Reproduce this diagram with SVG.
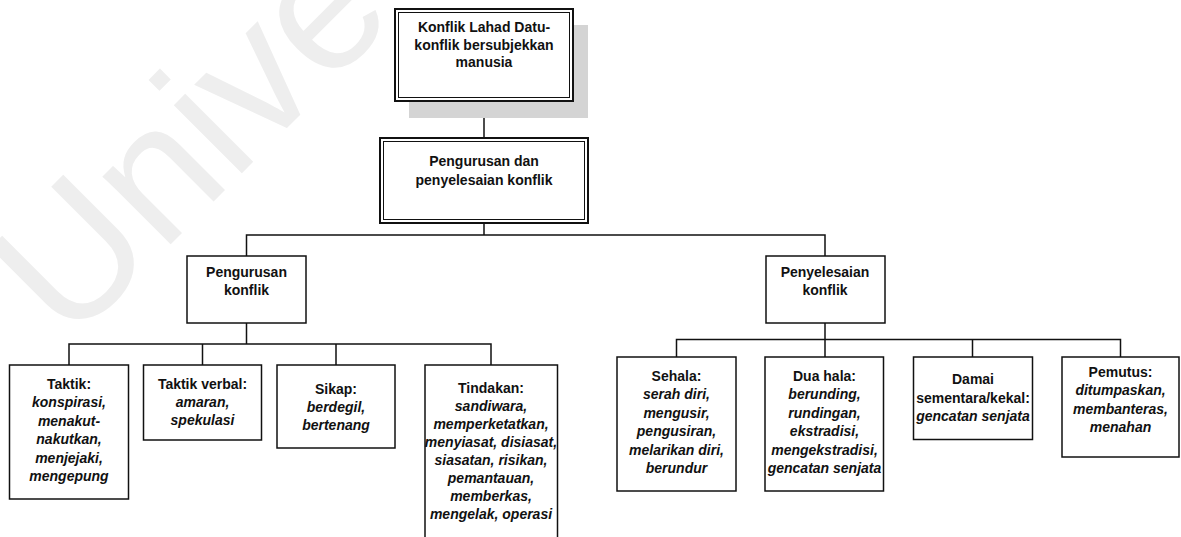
<svg xmlns="http://www.w3.org/2000/svg" width="1181" height="537" viewBox="0 0 1181 537">
  <style>
    .box { fill: #ffffff; stroke: #111111; stroke-width: 1.5; }
    .outer { fill: #ffffff; stroke: #111111; stroke-width: 2; }
    .inner { fill: none; stroke: #111111; stroke-width: 1; }
    .shadow { fill: #d4d4d4; stroke: none; }
    .wire { fill: none; stroke: #111111; stroke-width: 1.5; }
    .t { font-family: "Liberation Sans", Arial, sans-serif; font-size: 14px; font-weight: bold; text-anchor: middle; fill: #111111; }
    .i { font-style: italic; }
    .wm { font-family: "Liberation Sans", Arial, sans-serif; font-size: 182px; fill: #eeeeee; }
  </style>

  <rect x="0" y="0" width="1181" height="537" fill="#ffffff"/>

  <!-- background watermark -->
  <text class="wm" transform="translate(68.7,346.3) rotate(-45)">Unive</text>

  <!-- connectors -->
  <g id="connectors">
    <path class="wire" d="M484,101 V138"/>
    <path class="wire" d="M484,223 V235 M246.5,256 V235 H825 V256"/>
    <path class="wire" d="M246.5,323 V344 M69,365 V344 H491 V365 M202.5,344 V365 M336,344 V365"/>
    <path class="wire" d="M825,323 V357 M676.5,357 V339.5 H1120.5 V357 M972.5,339.5 V357"/>
  </g>

  <!-- root -->
  <g id="node-root">
    <rect class="shadow" x="409" y="25" width="179" height="93"/>
    <rect class="outer" x="395" y="9" width="178" height="92"/>
    <rect class="inner" x="398.5" y="12.5" width="171" height="85"/>
    <text class="t"><tspan x="484" y="32">Konflik Lahad Datu-</tspan><tspan x="484" y="49.5">konflik bersubjekkan</tspan><tspan x="484" y="67">manusia</tspan></text>
  </g>

  <g id="node-manage-resolve">
    <rect class="outer" x="380" y="138" width="208" height="85"/>
    <rect class="inner" x="383.5" y="141.5" width="201" height="78"/>
    <text class="t"><tspan x="484" y="166">Pengurusan dan</tspan><tspan x="484" y="185">penyelesaian konflik</tspan></text>
  </g>

  <!-- second level -->
  <g id="node-manage">
    <rect class="box" x="187" y="256" width="119" height="67"/>
    <text class="t"><tspan x="246.5" y="277">Pengurusan</tspan><tspan x="246.5" y="295">konflik</tspan></text>
  </g>

  <g id="node-resolve">
    <rect class="box" x="766" y="256" width="119" height="67"/>
    <text class="t"><tspan x="825" y="277">Penyelesaian</tspan><tspan x="825" y="295">konflik</tspan></text>
  </g>

  <!-- management branch -->
  <g id="node-taktik">
    <rect class="box" x="9.5" y="365" width="119" height="134"/>
    <text class="t"><tspan x="69" y="389">Taktik:</tspan><tspan class="i" x="69" y="407.4">konspirasi,</tspan><tspan class="i" x="69" y="425.8">menakut-</tspan><tspan class="i" x="69" y="444.2">nakutkan,</tspan><tspan class="i" x="69" y="462.6">menjejaki,</tspan><tspan class="i" x="69" y="481">mengepung</tspan></text>
  </g>

  <g id="node-verbal">
    <rect class="box" x="143.5" y="365" width="118" height="75"/>
    <text class="t"><tspan x="202.5" y="388.5">Taktik verbal:</tspan><tspan class="i" x="202.5" y="406.9">amaran,</tspan><tspan class="i" x="202.5" y="425.3">spekulasi</tspan></text>
  </g>

  <g id="node-sikap">
    <rect class="box" x="277" y="365" width="118" height="83"/>
    <text class="t"><tspan x="336" y="393.5">Sikap:</tspan><tspan class="i" x="336" y="411.9">berdegil,</tspan><tspan class="i" x="336" y="430.3">bertenang</tspan></text>
  </g>

  <g id="node-tindakan">
    <rect class="box" x="425" y="365" width="132.5" height="180"/>
    <text class="t"><tspan x="491" y="392.5">Tindakan:</tspan><tspan class="i" x="491" y="410.6">sandiwara,</tspan><tspan class="i" x="491" y="428.7">memperketatkan,</tspan><tspan class="i" x="491" y="446.8">menyiasat, disiasat,</tspan><tspan class="i" x="491" y="464.9">siasatan, risikan,</tspan><tspan class="i" x="491" y="483">pemantauan,</tspan><tspan class="i" x="491" y="501.1">memberkas,</tspan><tspan class="i" x="491" y="519.2">mengelak, operasi</tspan></text>
  </g>

  <!-- resolution branch -->
  <g id="node-sehala">
    <rect class="box" x="617" y="357" width="119" height="134"/>
    <text class="t"><tspan x="676.5" y="380.7">Sehala:</tspan><tspan class="i" x="676.5" y="399.2">serah diri,</tspan><tspan class="i" x="676.5" y="417.7">mengusir,</tspan><tspan class="i" x="676.5" y="436.2">pengusiran,</tspan><tspan class="i" x="676.5" y="454.7">melarikan diri,</tspan><tspan class="i" x="676.5" y="473.2">berundur</tspan></text>
  </g>

  <g id="node-duahala">
    <rect class="box" x="765" y="357" width="118.5" height="134"/>
    <text class="t"><tspan x="824.5" y="380.7">Dua hala:</tspan><tspan class="i" x="824.5" y="399.2">berunding,</tspan><tspan class="i" x="824.5" y="417.7">rundingan,</tspan><tspan class="i" x="824.5" y="436.2">ekstradisi,</tspan><tspan class="i" x="824.5" y="454.7">mengekstradisi,</tspan><tspan class="i" x="824.5" y="473.2">gencatan senjata</tspan></text>
  </g>

  <g id="node-damai">
    <rect class="box" x="913.5" y="357" width="119" height="82.5"/>
    <text class="t"><tspan x="973" y="384">Damai</tspan><tspan x="973" y="402.5">sementara/kekal:</tspan><tspan class="i" x="973" y="421">gencatan senjata</tspan></text>
  </g>

  <g id="node-pemutus">
    <rect class="box" x="1062" y="357" width="117" height="100"/>
    <text class="t"><tspan x="1120.5" y="376.7">Pemutus:</tspan><tspan class="i" x="1120.5" y="395.1">ditumpaskan,</tspan><tspan class="i" x="1120.5" y="413.5">membanteras,</tspan><tspan class="i" x="1120.5" y="431.9">menahan</tspan></text>
  </g>
</svg>
